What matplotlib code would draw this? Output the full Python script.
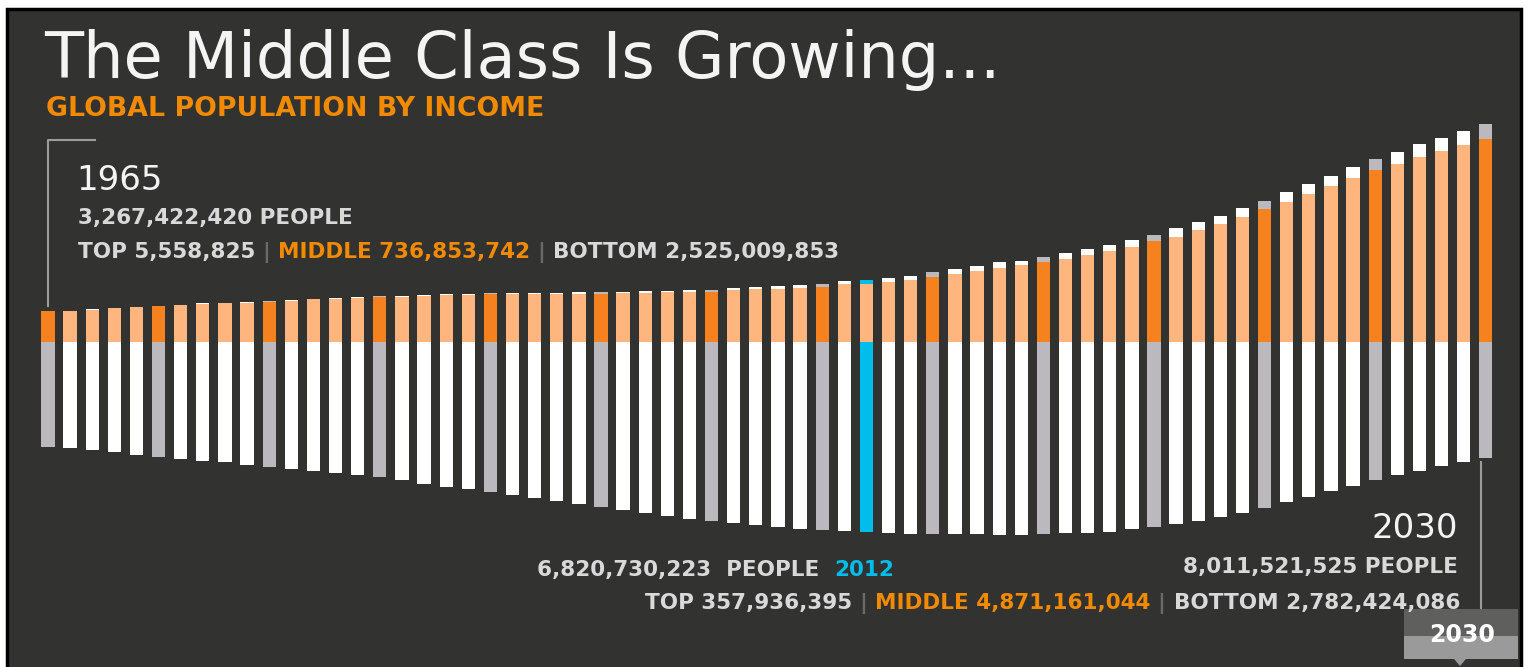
import numpy as np
import matplotlib
matplotlib.use("Agg")
import matplotlib.pyplot as plt
from matplotlib.patches import Rectangle, Polygon
from matplotlib.lines import Line2D

# global population by income, billions of people, 1965-2030
years = np.arange(1965, 2031)

top = [0.0056, 0.007, 0.008, 0.009, 0.010, 0.011, 0.012, 0.013, 0.014, 0.015,
       0.016, 0.017, 0.018, 0.019, 0.020, 0.021, 0.022, 0.023, 0.024, 0.026,
       0.027, 0.028, 0.030, 0.032, 0.034, 0.035, 0.037, 0.039, 0.040, 0.042,
       0.045, 0.047, 0.055, 0.058, 0.063, 0.072, 0.072, 0.079, 0.082, 0.096,
       0.106, 0.113, 0.125, 0.130, 0.115, 0.120, 0.144, 0.144, 0.144, 0.161,
       0.144, 0.200, 0.185, 0.192, 0.216, 0.207, 0.240, 0.248, 0.248, 0.264,
       0.264, 0.288, 0.313, 0.320, 0.344, 0.358]

middle = [0.737, 0.745, 0.776, 0.810, 0.834, 0.858, 0.882, 0.913, 0.930, 0.945,
          0.969, 0.993, 1.026, 1.034, 1.065, 1.082, 1.089, 1.106, 1.130, 1.137,
          1.145, 1.155, 1.150, 1.154, 1.161, 1.161, 1.171, 1.178, 1.195, 1.209,
          1.200, 1.245, 1.267, 1.281, 1.305, 1.334, 1.386, 1.403, 1.445, 1.502,
          1.570, 1.635, 1.710, 1.790, 1.840, 1.930, 1.988, 2.088, 2.188, 2.291,
          2.428, 2.531, 2.692, 2.837, 2.998, 3.190, 3.373, 3.550, 3.750, 3.935,
          4.127, 4.286, 4.440, 4.591, 4.736, 4.871]

bottom = [2.525, 2.555, 2.603, 2.651, 2.709, 2.757, 2.805, 2.853, 2.892, 2.957,
          3.005, 3.046, 3.101, 3.156, 3.204, 3.252, 3.317, 3.406, 3.478, 3.534,
          3.606, 3.678, 3.743, 3.815, 3.894, 3.959, 4.031, 4.111, 4.183, 4.255,
          4.303, 4.351, 4.392, 4.447, 4.502, 4.519, 4.550, 4.575, 4.599, 4.615,
          4.623, 4.623, 4.625, 4.632, 4.639, 4.623, 4.599, 4.589, 4.560, 4.502,
          4.447, 4.382, 4.303, 4.214, 4.111, 3.998, 3.853, 3.733, 3.582, 3.454,
          3.317, 3.204, 3.094, 2.981, 2.885, 2.782]

highlight_year = 2002

BG = "#323330"
WHITE = "#FFFFFF"
GRAY = "#BBB9BD"
ORANGE = "#F5821F"
LIGHT_ORANGE = "#FFB67E"
BLUE = "#00BDEB"
TXT = "#D9D9D9"
ORANGE_TXT = "#F28A00"
SEP = "#6A6A68"
FONT = "DejaVu Sans"
SMALL = 15.5

W, H = 1529, 667
fig = plt.figure(figsize=(W / 100, H / 100), dpi=100, facecolor="white")

# dark panel with black frame
fig.patches.append(Rectangle((7 / W, -0.01), (1521 - 7) / W, (H - 9) / H + 0.01,
                             transform=fig.transFigure, facecolor=BG,
                             edgecolor="black", linewidth=2.5, zorder=-5))

# bars: first bar at x=48px, 22.12px per bar; baseline at y=342px, 41.6px per billion
step, scale = 22.12, 41.6
ax = fig.add_axes([0, 0, 1, 1], zorder=1)
ax.set_xlim(1965 - 48 / step, 1965 - 48 / step + W / step)
y0 = -(H - 342) / scale
ax.set_ylim(y0, y0 + H / scale)
ax.axis("off")
ax.patch.set_alpha(0)

top_a, mid_a, bot_a = np.array(top), np.array(middle), np.array(bottom)
fives = years % 5 == 0
bot_col = np.where(fives, GRAY, WHITE).astype(object)
top_col = bot_col.copy()
mid_col = np.where(fives, ORANGE, LIGHT_ORANGE)
hl = years == highlight_year
bot_col[hl] = BLUE
top_col[hl] = BLUE

bw = 0.6
ax.bar(years, -bot_a, width=bw, color=list(bot_col), zorder=3)
ax.bar(years, mid_a, width=bw, color=list(mid_col), zorder=3)
ax.bar(years, top_a, bottom=mid_a, width=bw, color=list(top_col), zorder=3)


def fx(x):
    return x / W


def fy(y):
    return 1 - y / H


renderer = fig.canvas.get_renderer()


def run(x, y, pieces, size, ha="left", weight="bold"):
    """Write coloured pieces one after another on one baseline (pixel coords)."""
    objs = []
    for txt, col in pieces:
        t = fig.text(0, fy(y), txt, color=col, fontsize=size, fontweight=weight,
                     family=FONT, va="baseline", ha="left")
        objs.append(t)
    widths = [t.get_window_extent(renderer).width for t in objs]
    start = x if ha == "left" else x - sum(widths)
    for t, w in zip(objs, widths):
        t.set_x(fx(start))
        start += w


fig.text(fx(44), fy(78), "The Middle Class Is Growing...", color="#F4F4F4",
         fontsize=46, family=FONT, va="baseline")
fig.text(fx(46), fy(116), "GLOBAL POPULATION BY INCOME", color=ORANGE_TXT,
         fontsize=19.3, family=FONT, fontweight="bold", va="baseline")

# 1965 callout
fig.lines.append(Line2D([fx(95), fx(48), fx(48)], [fy(140), fy(140), fy(306)],
                        transform=fig.transFigure, color="#9C9C9C", lw=1.5))
fig.text(fx(76), fy(190), "1965", color="#F4F4F4", fontsize=24.5,
         family=FONT, va="baseline")
run(78, 224, [("3,267,422,420 PEOPLE", TXT)], SMALL)
run(78, 258, [("TOP 5,558,825 ", TXT), ("| ", SEP),
              ("MIDDLE 736,853,742 ", ORANGE_TXT), ("| ", SEP),
              ("BOTTOM 2,525,009,853", TXT)], SMALL)

# highlighted bar callout
run(537, 576, [("6,820,730,223  PEOPLE  ", TXT), ("2012", BLUE)], SMALL)

# 2030 callout
fig.text(fx(1458), fy(538), "2030", color="#F4F4F4", fontsize=24.5,
         family=FONT, va="baseline", ha="right")
run(1458, 573, [("8,011,521,525 PEOPLE", TXT)], SMALL, ha="right")
run(1460, 609, [("TOP 357,936,395 ", TXT), ("| ", SEP),
                ("MIDDLE 4,871,161,044 ", ORANGE_TXT), ("| ", SEP),
                ("BOTTOM 2,782,424,086", TXT)], SMALL, ha="right")
fig.lines.append(Line2D([fx(1481), fx(1481)], [fy(462), fy(609)],
                        transform=fig.transFigure, color="#9C9C9C", lw=1.5))

# year tab at the bottom right
fig.patches.append(Rectangle((fx(1404), fy(636)), 114 / W, 27 / H,
                             transform=fig.transFigure, facecolor="#5F605E",
                             edgecolor="none", zorder=2))
fig.patches.append(Rectangle((fx(1404), fy(659)), 114 / W, 23 / H,
                             transform=fig.transFigure, facecolor="#9A9A9A",
                             edgecolor="none", zorder=2))
fig.patches.append(Polygon([(fx(1454), fy(659)), (fx(1466), fy(659)),
                            (fx(1460), fy(666))], transform=fig.transFigure,
                           facecolor="#9A9A9A", edgecolor="none", zorder=2))
fig.text(fx(1462), fy(642), "2030", color="white", fontsize=17,
         fontweight="bold", family=FONT, va="baseline", ha="center",
         zorder=3)

fig.savefig("out.png", dpi=100, facecolor="white")
